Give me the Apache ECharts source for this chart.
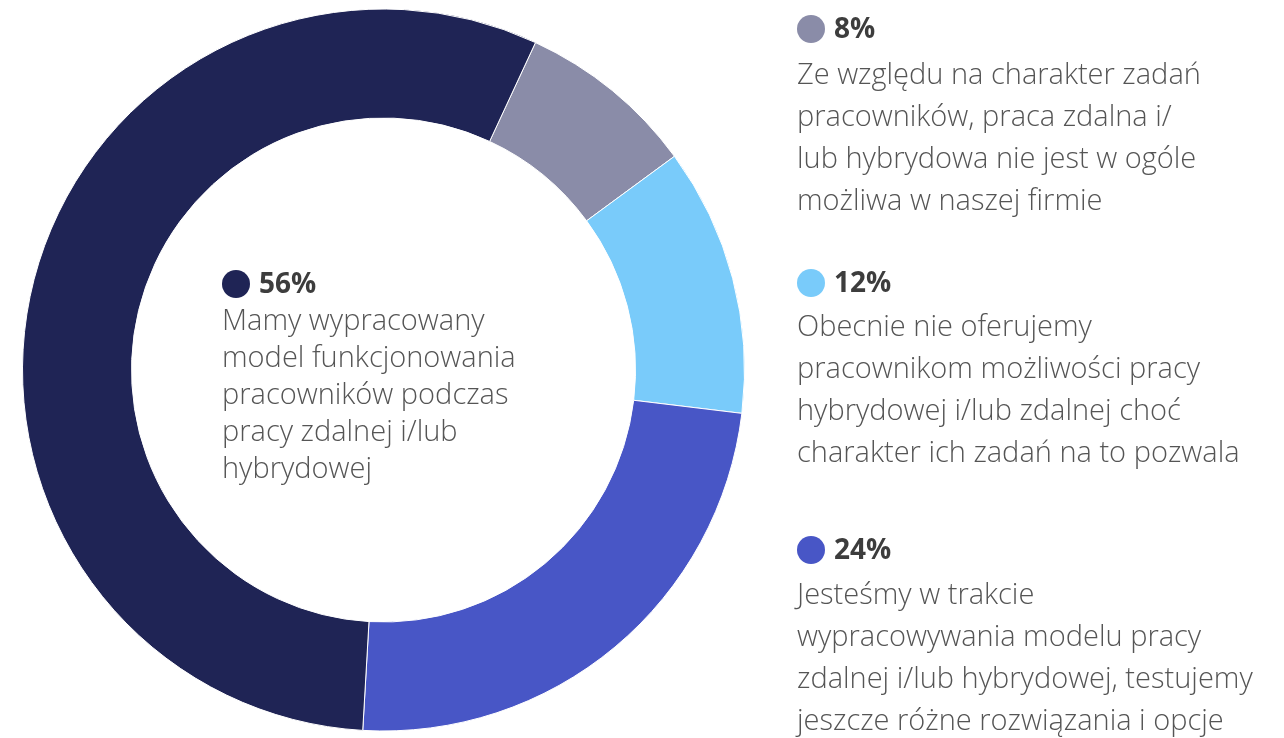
<!DOCTYPE html>
<html>
<head>
<meta charset="utf-8">
<script src="https://cdn.jsdelivr.net/npm/echarts@6/dist/echarts.min.js"></script>
<style>
html,body{margin:0;padding:0;background:#fff;}
#main{width:1284px;height:738px;}
</style>
</head>
<body>
<div id="main"></div>
<script>
// Data
var categories = [
  "Ze względu na charakter zadań\npracowników, praca zdalna i/\nlub hybrydowa nie jest w ogóle\nmożliwa w naszej firmie",
  "Obecnie nie oferujemy\npracownikom możliwości pracy\nhybrydowej i/lub zdalnej choć\ncharakter ich zadań na to pozwala",
  "Jesteśmy w trakcie\nwypracowywania modelu pracy\nzdalnej i/lub hybrydowej, testujemy\njeszcze różne rozwiązania i opcje",
  "Mamy wypracowany\nmodel funkcjonowania\npracowników podczas\npracy zdalnej i/lub\nhybrydowej"
];
var values = [8, 12, 24, 56];
var colors = ["#8a8ca8", "#79cbfa", "#4856c6", "#1f2455"];

var FONT = '"Open Sans", "Noto Sans", sans-serif';
// label block anchors: [circleX, circleY, bodyX, bodyTopY, lineHeight]
var anchors = [
  [811, 29, 797, 55, 42],
  [811, 283, 797, 307, 42],
  [811, 550, 797, 575, 42],
  [236, 284, 222, 303, 37]
];

var graphics = [];
values.forEach(function (v, i) {
  var a = anchors[i];
  graphics.push({
    type: 'circle', shape: { cx: a[0], cy: a[1], r: 14 },
    style: { fill: colors[i] }, silent: true
  });
  graphics.push({
    type: 'text', x: a[0] + 23, y: a[1] + 1,
    style: { text: v + '%', fontFamily: FONT, fontSize: 28, fontWeight: 'bold',
      fill: '#3d3d3d', verticalAlign: 'middle', align: 'left' }
  });
  graphics.push({
    type: 'text', x: a[2], y: a[3],
    style: { text: categories[i], fontFamily: FONT, fontSize: 29, fontWeight: 300,
      fill: '#555555', verticalAlign: 'top', align: 'left', lineHeight: a[4] }
  });
});

var chart = echarts.init(document.getElementById('main'));
chart.setOption({
  animation: false,
  series: [{
    type: 'pie',
    center: [383.5, 370],
    radius: [252, 361],
    startAngle: 65.1,
    clockwise: true,
    label: { show: false },
    labelLine: { show: false },
    emphasis: { disabled: true },
    itemStyle: { borderColor: '#ffffff', borderWidth: 1 },
    data: values.map(function (v, i) {
      return { value: v, name: categories[i], itemStyle: { color: colors[i] } };
    })
  }],
  graphic: graphics
});
</script>
</body>
</html>
